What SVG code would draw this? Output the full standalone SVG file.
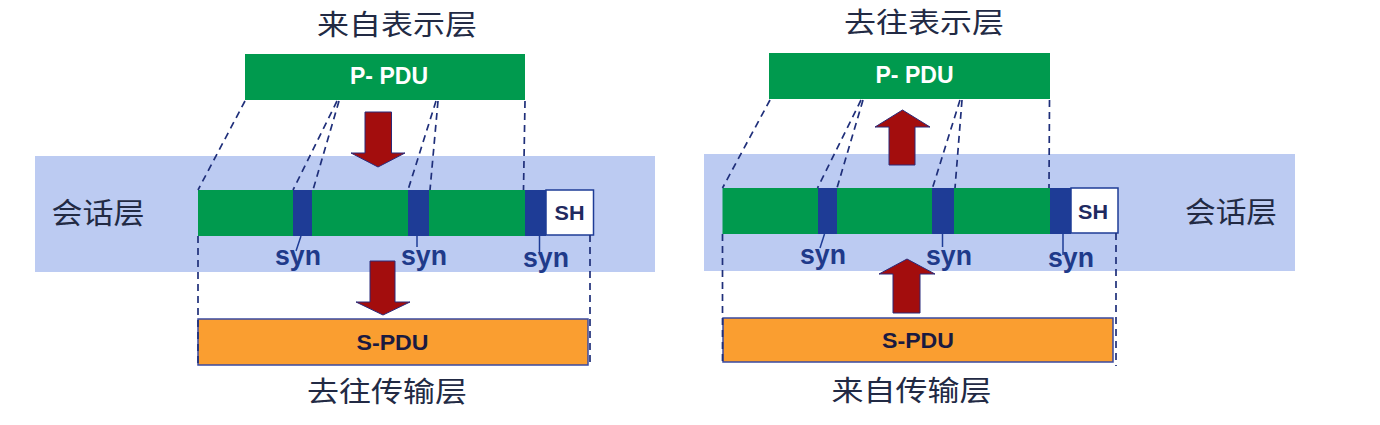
<svg xmlns="http://www.w3.org/2000/svg" width="1380" height="425" viewBox="0 0 1380 425">
<style>
.band{fill:#BCCBF2}
.grn{fill:#009A4E}
.blu{fill:#1E3C96}
.sh{fill:#FFFFFF;stroke:#1E3C96;stroke-width:1.5}
.spdu{fill:#FA9E30;stroke:#3A4AA0;stroke-width:1.5}
.arrow{fill:#A30D0D;stroke:#2A2A7A;stroke-width:1}
.dash{fill:none;stroke:#1F2F7A;stroke-width:1.7;stroke-dasharray:7 5}
.synl{fill:none;stroke:#1E3C96;stroke-width:1.5}
.cn{font-family:"Noto Sans CJK SC",sans-serif;fill:#222a44;text-anchor:middle}
.en{font-family:"Liberation Sans",Arial,sans-serif;font-weight:bold;text-anchor:middle}
.syn{font-family:"Liberation Sans",Arial,sans-serif;font-weight:bold;font-size:27px;fill:#1F3A8A;text-anchor:middle}
</style>

<!-- LEFT PANEL -->
<g id="left-band"><rect class="band" x="35" y="156" width="620" height="116"/>
<text class="cn" x="98" y="224" font-size="29" textLength="93" lengthAdjust="spacingAndGlyphs">会话层</text></g>

<g id="left-title"><text class="cn" x="397" y="35" font-size="28" textLength="160" lengthAdjust="spacingAndGlyphs">来自表示层</text></g>

<g id="left-ppdu">
<rect class="grn" x="245" y="54" width="280" height="46"/>
<text class="en" x="389" y="83.5" font-size="23" fill="#FFFFFF" textLength="78" lengthAdjust="spacingAndGlyphs">P- PDU</text>
</g>

<g id="left-session">
<rect class="grn" x="198" y="190" width="95" height="46"/>
<rect class="blu" x="293" y="190" width="19" height="46"/>
<rect class="grn" x="312" y="190" width="96" height="46"/>
<rect class="blu" x="408" y="190" width="21" height="46"/>
<rect class="grn" x="429" y="190" width="96" height="46"/>
<rect class="blu" x="525" y="190" width="21" height="46"/>
<rect class="sh" x="546" y="190" width="47.5" height="45"/>
<text class="en" x="569.5" y="220" font-size="21" fill="#1F2A60" textLength="30" lengthAdjust="spacingAndGlyphs">SH</text>
</g>

<g id="left-syn">
<line class="synl" x1="301" y1="236" x2="296" y2="251"/>
<line class="synl" x1="417" y1="236" x2="417" y2="247"/>
<line class="synl" x1="539.5" y1="235" x2="539.5" y2="255"/>
<text class="syn" x="298" y="265" textLength="46" lengthAdjust="spacingAndGlyphs">syn</text>
<text class="syn" x="424" y="265" textLength="46" lengthAdjust="spacingAndGlyphs">syn</text>
<text class="syn" x="546" y="267" textLength="46" lengthAdjust="spacingAndGlyphs">syn</text>
</g>

<g id="left-spdu">
<rect class="spdu" x="198" y="319" width="390" height="46"/>
<text class="en" x="392.5" y="350" font-size="22" fill="#1A1A40" textLength="72" lengthAdjust="spacingAndGlyphs">S-PDU</text>
</g>

<g id="left-bottom-title"><text class="cn" x="387" y="402" font-size="28" textLength="160" lengthAdjust="spacingAndGlyphs">去往传输层</text></g>

<!-- RIGHT PANEL -->
<g id="right-band"><rect class="band" x="704" y="154" width="591" height="117"/>
<text class="cn" x="1231" y="223" font-size="29" textLength="92" lengthAdjust="spacingAndGlyphs">会话层</text></g>

<g id="right-title"><text class="cn" x="924" y="33" font-size="28" textLength="160" lengthAdjust="spacingAndGlyphs">去往表示层</text></g>

<g id="right-ppdu">
<rect class="grn" x="769" y="53" width="281" height="46"/>
<text class="en" x="914.5" y="82.5" font-size="23" fill="#FFFFFF" textLength="78" lengthAdjust="spacingAndGlyphs">P- PDU</text>
</g>

<g id="right-session">
<rect class="grn" x="722.5" y="188" width="95.5" height="46"/>
<rect class="blu" x="818" y="188" width="19" height="46"/>
<rect class="grn" x="837" y="188" width="95" height="46"/>
<rect class="blu" x="932" y="188" width="22" height="46"/>
<rect class="grn" x="954" y="188" width="96" height="46"/>
<rect class="blu" x="1050" y="188" width="21" height="46"/>
<rect class="sh" x="1071" y="188" width="47" height="45"/>
<text class="en" x="1093" y="219" font-size="21" fill="#1F2A60" textLength="30" lengthAdjust="spacingAndGlyphs">SH</text>
</g>

<g id="right-syn">
<line class="synl" x1="824.5" y1="234" x2="820" y2="248"/>
<line class="synl" x1="942.5" y1="234" x2="942.5" y2="247"/>
<line class="synl" x1="1063" y1="233" x2="1063" y2="255"/>
<text class="syn" x="823" y="264" textLength="46" lengthAdjust="spacingAndGlyphs">syn</text>
<text class="syn" x="949" y="265" textLength="46" lengthAdjust="spacingAndGlyphs">syn</text>
<text class="syn" x="1071" y="267" textLength="46" lengthAdjust="spacingAndGlyphs">syn</text>
</g>

<g id="right-spdu">
<rect class="spdu" x="723" y="318" width="390" height="44"/>
<text class="en" x="918" y="348" font-size="22" fill="#1A1A40" textLength="72" lengthAdjust="spacingAndGlyphs">S-PDU</text>
</g>

<g id="right-bottom-title"><text class="cn" x="911.5" y="401" font-size="28" textLength="160" lengthAdjust="spacingAndGlyphs">来自传输层</text></g>

<!-- CONNECTORS -->
<g id="connectors">
<line class="dash" x1="245" y1="101" x2="198" y2="190"/>
<line class="dash" x1="337" y1="101" x2="293" y2="190"/>
<line class="dash" x1="339" y1="101" x2="313" y2="190"/>
<line class="dash" x1="436" y1="101" x2="408" y2="190"/>
<line class="dash" x1="438" y1="101" x2="430" y2="190"/>
<line class="dash" x1="525" y1="101" x2="523.5" y2="190"/>
<line class="dash" x1="198" y1="236" x2="198" y2="367"/>
<line class="dash" x1="590" y1="235" x2="590" y2="367"/>
<line class="dash" x1="770" y1="100" x2="722.5" y2="188"/>
<line class="dash" x1="861" y1="100" x2="817.5" y2="188"/>
<line class="dash" x1="863" y1="100" x2="837" y2="188"/>
<line class="dash" x1="960" y1="100" x2="932.5" y2="188"/>
<line class="dash" x1="962" y1="100" x2="955" y2="188"/>
<line class="dash" x1="1049.5" y1="100" x2="1049" y2="188"/>
<line class="dash" x1="722.5" y1="234" x2="722.5" y2="366"/>
<line class="dash" x1="1116" y1="233" x2="1116" y2="366"/>
<polygon class="arrow" points="365,112 391.5,112 391.5,153 405,153 378,167 351,153 365,153"/>
<polygon class="arrow" points="370,261 395,261 395,302 410,302 383,315 356,302 370,302"/>
<polygon class="arrow" points="889,165 915,165 915,127 930,127 902.5,110 875,127 889,127"/>
<polygon class="arrow" points="893,313 920,313 920,274 935,274 907,259 879,274 893,274"/>
</g>
</svg>
